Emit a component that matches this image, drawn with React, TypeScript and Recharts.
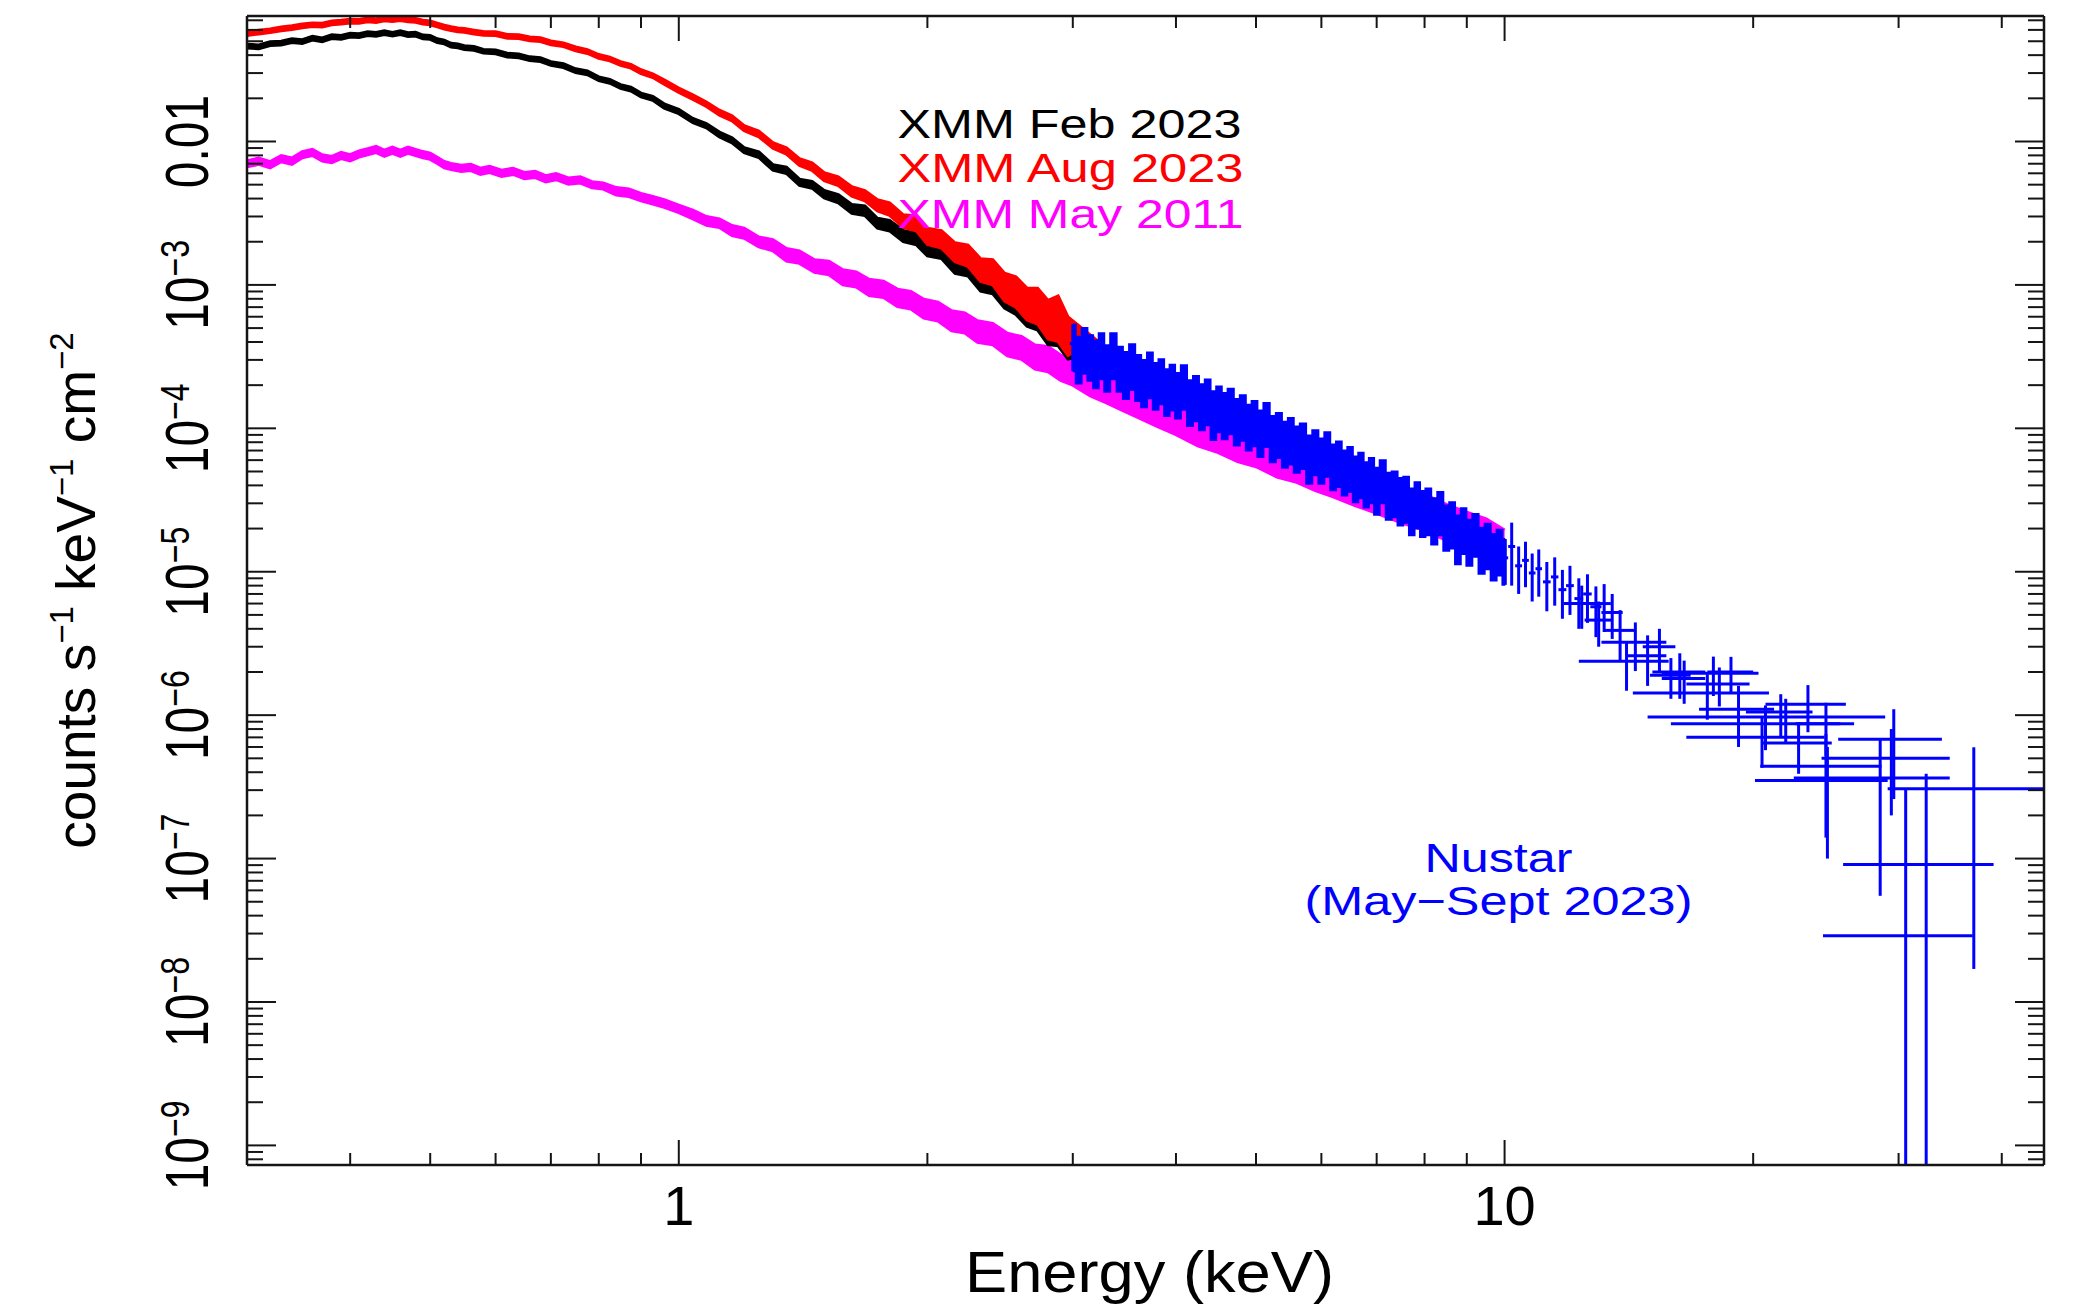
import React from 'react';
import { ComposedChart, Area, Scatter, XAxis, YAxis, ErrorBar, ReferenceDot } from 'recharts';

const FONT = '"Liberation Sans", Arial, Helvetica, sans-serif';
const AXIS = '#151515';

const X_DOMAIN: [number, number] = [0.3, 45];
const Y_DOMAIN: [number, number] = [7.3e-10, 0.075];

// axis ticks
const xMajorTicks = [1, 10];
const xMajorLabels = ['1', '10'];
const xMinorTicks = [0.4, 0.5, 0.6, 0.7, 0.8, 0.9, 2, 3, 4, 5, 6, 7, 8, 9, 20, 30, 40];
const yMajorTicks = [1e-9, 1e-8, 1e-7, 1e-6, 1e-5, 1e-4, 1e-3, 1e-2];
const yMajorLabels: [string, string][] = [
  ['10', '\u22129'], ['10', '\u22128'], ['10', '\u22127'], ['10', '\u22126'],
  ['10', '\u22125'], ['10', '\u22124'], ['10', '\u22123'], ['0.01', ''],
];
const yMinorMultipliers = [2, 3, 4, 5, 6, 7, 8, 9];
const yDecades = [1e-10, 1e-9, 1e-8, 1e-7, 1e-6, 1e-5, 1e-4, 1e-3, 1e-2];

// XMM Feb 2023: [energy keV, counts s^-1 keV^-1 cm^-2, fractional error]
const xmmFeb2023: [number, number, number][] = [
  [0.300,0.0462,0.03],[0.310,0.0458,0.03],[0.320,0.0482,0.03],[0.330,0.0485,0.03],[0.340,0.0505,0.03],
  [0.350,0.0498,0.03],[0.360,0.0525,0.03],[0.370,0.0512,0.03],[0.380,0.0538,0.03],[0.390,0.0532,0.03],
  [0.400,0.0552,0.03],[0.410,0.0548,0.03],[0.420,0.0566,0.03],[0.430,0.0558,0.03],[0.440,0.0575,0.03],
  [0.450,0.0560,0.03],[0.460,0.0574,0.03],[0.470,0.0556,0.03],[0.480,0.0560,0.03],[0.490,0.0536,0.03],
  [0.500,0.0532,0.03],[0.510,0.0505,0.03],[0.520,0.0494,0.03],[0.530,0.0470,0.03],[0.540,0.0464,0.03],
  [0.550,0.0452,0.03],[0.565,0.0446,0.03],[0.580,0.0426,0.03],[0.600,0.0422,0.03],[0.620,0.0400,0.03],
  [0.640,0.0395,0.03],[0.660,0.0378,0.03],[0.680,0.0372,0.03],[0.700,0.0350,0.03],[0.725,0.0338,0.03],
  [0.750,0.0312,0.03],[0.775,0.0301,0.03],[0.800,0.0274,0.03],[0.825,0.0263,0.03],[0.850,0.0242,0.03],
  [0.875,0.0232,0.03],[0.900,0.0211,0.03],[0.930,0.0200,0.03],[0.960,0.0177,0.035],[1.000,0.0162,0.035],
  [1.040,0.0140,0.035],[1.080,0.0129,0.035],[1.120,0.0112,0.04],[1.160,0.0102,0.04],[1.200,0.0087,0.04],
  [1.250,0.0081,0.045],[1.300,0.0066,0.045],[1.350,0.0063,0.05],[1.400,0.0052,0.05],[1.450,0.0050,0.055],
  [1.500,0.0043,0.06],[1.560,0.0040,0.065],[1.620,0.0034,0.07],[1.680,0.0033,0.075],[1.740,0.0027,0.08],
  [1.800,0.0026,0.085],[1.870,0.0022,0.09],[1.940,0.0021,0.095],[2.000,0.00177,0.1],[2.080,0.00170,0.1],
  [2.160,0.00135,0.11],[2.240,0.00131,0.12],[2.320,0.00104,0.13],[2.400,0.00101,0.14],[2.480,0.00081,0.15],
  [2.560,0.00074,0.16],[2.640,0.00062,0.17],[2.720,0.00059,0.18],[2.800,0.00048,0.2],[2.880,0.00047,0.2],
  [2.960,0.00039,0.22],[3.040,0.00037,0.15],[3.300,0.00029,0.12],[3.700,0.00021,0.12],[4.200,0.000152,0.12],
  [4.800,0.000108,0.12],[5.500,0.000078,0.12],[6.300,0.000054,0.12],[7.200,0.000039,0.12],[8.200,0.000027,0.12],
];

// XMM Aug 2023
const xmmAug2023: [number, number, number][] = [
  [0.300,0.0565,0.03],[0.310,0.0580,0.03],[0.320,0.0592,0.03],[0.330,0.0610,0.03],[0.340,0.0622,0.03],
  [0.350,0.0640,0.03],[0.360,0.0652,0.03],[0.370,0.0648,0.03],[0.380,0.0672,0.03],[0.390,0.0680,0.03],
  [0.400,0.0692,0.03],[0.410,0.0688,0.03],[0.420,0.0705,0.03],[0.430,0.0698,0.03],[0.440,0.0716,0.03],
  [0.450,0.0708,0.03],[0.460,0.0718,0.03],[0.470,0.0705,0.03],[0.480,0.0700,0.03],[0.490,0.0680,0.03],
  [0.500,0.0672,0.03],[0.510,0.0650,0.03],[0.520,0.0628,0.03],[0.530,0.0612,0.03],[0.540,0.0600,0.03],
  [0.550,0.0595,0.03],[0.565,0.0580,0.03],[0.580,0.0567,0.03],[0.600,0.0565,0.03],[0.620,0.0541,0.03],
  [0.640,0.0538,0.03],[0.660,0.0520,0.03],[0.680,0.0513,0.03],[0.700,0.0488,0.03],[0.725,0.0473,0.03],
  [0.750,0.0443,0.03],[0.775,0.0424,0.03],[0.800,0.0392,0.03],[0.825,0.0376,0.03],[0.850,0.0350,0.03],
  [0.875,0.0335,0.03],[0.900,0.0307,0.03],[0.930,0.0288,0.03],[0.960,0.0260,0.035],[1.000,0.0228,0.035],
  [1.040,0.0204,0.035],[1.080,0.0182,0.035],[1.120,0.0159,0.04],[1.160,0.0145,0.04],[1.200,0.0124,0.04],
  [1.250,0.0113,0.045],[1.300,0.0094,0.045],[1.350,0.0086,0.05],[1.400,0.0072,0.055],[1.450,0.0067,0.06],
  [1.500,0.0057,0.065],[1.560,0.0053,0.07],[1.620,0.0045,0.075],[1.680,0.0042,0.08],[1.740,0.0036,0.09],
  [1.800,0.0034,0.1],[1.870,0.0028,0.1],[1.940,0.0027,0.12],[2.000,0.0022,0.13],[2.080,0.0021,0.14],
  [2.160,0.00171,0.15],[2.240,0.00162,0.17],[2.320,0.00129,0.18],[2.400,0.00125,0.2],[2.480,0.00099,0.22],
  [2.560,0.00092,0.24],[2.640,0.00076,0.25],[2.720,0.00074,0.28],[2.800,0.00060,0.3],[2.880,0.00062,0.35],
  [2.960,0.00046,0.3],[3.040,0.00044,0.2],[3.400,0.00028,0.12],[4.000,0.000175,0.12],[4.600,0.000125,0.12],
  [5.100,0.000105,0.12],[5.800,0.000072,0.12],[6.600,0.000050,0.12],[7.500,0.000035,0.12],[8.500,0.000025,0.12],
];

// XMM May 2011
const xmmMay2011: [number, number, number][] = [
  [0.300,0.0070,0.05],[0.310,0.0073,0.05],[0.320,0.0069,0.05],[0.330,0.0076,0.05],[0.340,0.0073,0.05],
  [0.350,0.0081,0.05],[0.360,0.0084,0.05],[0.370,0.0077,0.05],[0.380,0.0075,0.05],[0.390,0.0080,0.05],
  [0.400,0.0077,0.05],[0.410,0.0082,0.05],[0.420,0.0085,0.05],[0.430,0.0088,0.05],[0.440,0.0083,0.05],
  [0.450,0.0087,0.05],[0.460,0.0083,0.05],[0.470,0.0087,0.05],[0.480,0.0084,0.05],[0.490,0.0081,0.05],
  [0.500,0.0079,0.05],[0.510,0.0074,0.05],[0.520,0.0069,0.05],[0.530,0.0067,0.05],[0.545,0.0065,0.05],
  [0.560,0.0066,0.05],[0.575,0.0062,0.05],[0.590,0.0064,0.05],[0.610,0.0060,0.05],[0.630,0.0062,0.05],
  [0.650,0.0058,0.05],[0.670,0.0059,0.05],[0.690,0.0055,0.05],[0.710,0.0057,0.05],[0.735,0.0053,0.05],
  [0.760,0.0054,0.05],[0.785,0.0050,0.05],[0.810,0.0049,0.05],[0.840,0.0045,0.06],[0.870,0.0044,0.06],
  [0.900,0.0041,0.06],[0.930,0.0039,0.06],[0.960,0.0037,0.06],[1.000,0.0034,0.06],[1.040,0.0031,0.07],
  [1.080,0.0028,0.07],[1.120,0.0027,0.07],[1.160,0.0024,0.08],[1.200,0.0023,0.08],[1.250,0.0020,0.08],
  [1.300,0.0019,0.09],[1.350,0.00163,0.1],[1.400,0.00157,0.1],[1.460,0.00136,0.1],[1.520,0.00132,0.11],
  [1.580,0.00114,0.12],[1.640,0.00110,0.12],[1.700,0.00097,0.13],[1.770,0.00094,0.13],[1.840,0.00082,0.14],
  [1.910,0.00079,0.14],[1.980,0.00069,0.15],[2.060,0.00066,0.15],[2.140,0.00057,0.16],[2.220,0.00055,0.16],
  [2.300,0.00048,0.17],[2.400,0.00046,0.17],[2.500,0.00039,0.18],[2.600,0.00037,0.18],[2.700,0.00032,0.19],
  [2.800,0.00031,0.2],[2.900,0.00027,0.2],[3.000,0.00025,0.2],[3.150,0.00021,0.2],[3.300,0.00019,0.21],
  [3.450,0.000168,0.21],[3.600,0.000152,0.22],[3.800,0.000132,0.22],[4.000,0.000116,0.22],[4.250,0.000098,0.23],
  [4.500,0.000088,0.23],[4.750,0.000077,0.24],[5.000,0.000071,0.24],[5.300,0.000061,0.25],[5.600,0.000056,0.25],
  [5.900,0.000049,0.25],[6.200,0.000045,0.26],[6.600,0.000039,0.26],[7.000,0.000035,0.27],[7.500,0.000030,0.27],
  [8.000,0.000027,0.28],[8.500,0.000023,0.28],[9.000,0.000020,0.3],[9.500,0.000018,0.3],[10.00,0.000015,0.3],
];

// NuSTAR May-Sept 2023: [energy keV, counts, half bin width keV, 1-sigma error]
const nustar: [number, number, number, number][] = [
  [3.00,3.9e-4,0.025,1.4e-4],[3.05,3.2e-4,0.025,1.15e-4],[3.10,3.7e-4,0.025,1.3e-4],[3.15,3.3e-4,0.025,1.15e-4],
  [3.20,3.0e-4,0.025,1.1e-4],[3.25,3.4e-4,0.025,1.2e-4],[3.30,2.8e-4,0.025,1.0e-4],[3.36,3.4e-4,0.03,1.2e-4],
  [3.42,2.75e-4,0.03,0.95e-4],[3.48,2.5e-4,0.03,0.9e-4],[3.54,2.85e-4,0.03,1.0e-4],[3.60,2.4e-4,0.03,0.85e-4],
  [3.66,2.2e-4,0.03,0.8e-4],[3.72,2.5e-4,0.03,0.88e-4],[3.78,2.1e-4,0.03,0.75e-4],[3.84,2.25e-4,0.03,0.78e-4],
  [3.90,1.9e-4,0.03,0.68e-4],[3.96,2.05e-4,0.03,0.72e-4],[4.02,1.8e-4,0.035,0.63e-4],[4.09,2.05e-4,0.035,0.7e-4],
  [4.16,1.6e-4,0.035,0.56e-4],[4.23,1.72e-4,0.035,0.6e-4],[4.30,1.5e-4,0.035,0.53e-4],[4.37,1.62e-4,0.035,0.57e-4],
  [4.44,1.32e-4,0.035,0.49e-4],[4.51,1.45e-4,0.035,0.51e-4],[4.58,1.3e-4,0.04,0.46e-4],[4.66,1.4e-4,0.04,0.49e-4],
  [4.74,1.18e-4,0.04,0.42e-4],[4.82,1.26e-4,0.04,0.44e-4],[4.90,1.08e-4,0.04,0.38e-4],[4.98,1.15e-4,0.04,0.4e-4],
  [5.06,0.98e-4,0.045,0.35e-4],[5.15,1.12e-4,0.045,0.38e-4],[5.24,0.9e-4,0.045,0.32e-4],[5.33,0.95e-4,0.045,0.33e-4],
  [5.42,0.82e-4,0.045,0.29e-4],[5.51,0.87e-4,0.045,0.31e-4],[5.60,0.76e-4,0.05,0.27e-4],[5.70,0.8e-4,0.05,0.28e-4],
  [5.80,0.65e-4,0.05,0.24e-4],[5.90,0.72e-4,0.05,0.25e-4],[6.00,0.63e-4,0.05,0.22e-4],[6.10,0.7e-4,0.05,0.24e-4],
  [6.20,0.57e-4,0.05,0.2e-4],[6.30,0.6e-4,0.05,0.21e-4],[6.40,0.52e-4,0.05,0.18e-4],[6.50,0.55e-4,0.05,0.19e-4],
  [6.60,0.47e-4,0.05,0.165e-4],[6.70,0.5e-4,0.05,0.175e-4],[6.80,0.43e-4,0.05,0.15e-4],[6.90,0.46e-4,0.05,0.16e-4],
  [7.00,0.39e-4,0.06,0.14e-4],[7.12,0.45e-4,0.06,0.15e-4],[7.24,0.36e-4,0.06,0.13e-4],[7.36,0.37e-4,0.06,0.13e-4],
  [7.48,0.33e-4,0.06,0.12e-4],[7.60,0.34e-4,0.06,0.12e-4],[7.72,0.28e-4,0.06,0.1e-4],[7.84,0.31e-4,0.06,0.11e-4],
  [7.96,0.27e-4,0.06,0.095e-4],[8.08,0.28e-4,0.07,0.1e-4],[8.22,0.24e-4,0.07,0.085e-4],[8.36,0.27e-4,0.07,0.09e-4],
  [8.50,0.215e-4,0.07,0.075e-4],[8.64,0.225e-4,0.07,0.08e-4],[8.78,0.18e-4,0.07,0.067e-4],[8.92,0.205e-4,0.07,0.072e-4],
  [9.06,0.17e-4,0.08,0.06e-4],[9.22,0.19e-4,0.08,0.063e-4],[9.38,0.15e-4,0.08,0.053e-4],[9.54,0.16e-4,0.08,0.056e-4],
  [9.70,0.135e-4,0.08,0.048e-4],[9.86,0.145e-4,0.08,0.051e-4],[10.02,0.125e-4,0.08,0.044e-4],
  [10.2,1.5e-5,0.1,0.7e-5],[10.4,1.1e-5,0.1,0.4e-5],[10.6,1.2e-5,0.1,0.42e-5],[10.8,0.98e-5,0.1,0.36e-5],
  [11.0,1.05e-5,0.1,0.38e-5],[11.25,0.85e-5,0.12,0.32e-5],[11.5,0.92e-5,0.12,0.34e-5],[11.75,0.75e-5,0.13,0.28e-5],
  [12.0,0.8e-5,0.13,0.3e-5],[12.3,0.65e-5,0.15,0.25e-5],[12.6,0.7e-5,0.15,0.26e-5],[12.9,0.57e-5,0.2,0.22e-5],
  [13.2,0.6e-5,0.25,0.22e-5],[12.4,6.0e-6,0.6,2.0e-6],[13.0,4.6e-6,0.5,1.6e-6],[13.5,5.2e-6,0.4,1.8e-6],
  [13.8,3.9e-6,0.6,1.5e-6],[14.4,3.23e-6,1.3,1.2e-6],[14.05,2.38e-6,1.75,0.9e-6],[14.9,2.6e-6,0.8,1.0e-6],
  [15.4,3.0e-6,0.7,1.0e-6],[15.9,1.9e-6,0.9,0.6e-6],[16.3,2.0e-6,1.2,0.7e-6],[16.5,1.8e-6,1.0,0.6e-6],
  [17.6,1.43e-6,3.3,0.5e-6],[17.9,1.96e-6,2.4,0.6e-6],[18.2,1.65e-6,1.6,0.5e-6],[18.8,2.0e-6,1.2,0.55e-6],
  [19.2,1.1e-6,2.0,0.5e-6],[20.5,7.0e-7,3.9,2.7e-7],[20.7,8.7e-7,4.8,3.0e-7],[21.6,1.05e-6,2.0,3.5e-7],
  [21.9,9.7e-7,7.0,3.3e-7],[22.7,6.4e-7,2.2,2.5e-7],[23.3,1.19e-6,2.6,4.3e-7],[24.5,8.7e-7,2.0,3.5e-7],
  [24.5,4.4e-7,4.1,3.0e-7],[24.6,3.5e-7,4.5,2.5e-7],[28.5,3.65e-7,6.1,3.1e-7],[29.4,5.0e-7,5.2,3.0e-7],
  [29.6,6.8e-7,4.25,4.2e-7],[30.6,2.9e-8,6.3,2.8e-7],[32.4,9.1e-8,6.7,3.0e-7],[37.0,3.07e-7,7.9,2.9e-7],
];
const NUSTAR_DENSE_MAX = 10.05; // keV, end of the densely binned part

// annotations: [text, colour, energy keV, counts (baseline), text width px]
const xmmLabels: [string, string, number, number, number][] = [
  ['XMM Feb 2023', '#000000', 1.84, 0.01066, 344],
  ['XMM Aug 2023', '#ff0000', 1.84, 0.00518, 346],
  ['XMM May 2011', '#ff00ff', 1.84, 0.00251, 346],
];
const nustarLabels: [string, number, number, number][] = [
  ['Nustar', 9.83, 8.1e-8, 148],
  ['(May\u2212Sept 2023)', 9.83, 4.07e-8, 388],
];

const bandData = (rows: [number, number, number][]) =>
  rows.map(([x, y, f]) => ({ x, y, band: [y * (1 - f), y * (1 + f)] }));
const nustarData = nustar.map(([x, y, ex, e]) => {
  const lo = Math.min(e, y - Y_DOMAIN[0]);
  return { x, y, ex, ey: [lo, e], band: [y - lo, y + e] };
});
const nustarDense = nustarData.filter((d) => d.x <= NUSTAR_DENSE_MAX);

const xTicks = [...xMinorTicks, ...xMajorTicks].sort((a, b) => a - b);
const yTicks: number[] = [];
yDecades.forEach((d) => {
  yMinorMultipliers.forEach((m) => {
    const v = m * d;
    if (v >= Y_DOMAIN[0] && v <= Y_DOMAIN[1]) yTicks.push(v);
  });
});
yMajorTicks.forEach((v) => yTicks.push(v));
yTicks.sort((a, b) => a - b);

function XTick(props: any) {
  const { x, y, payload, side } = props;
  const v = payload.value as number;
  const idx = xMajorTicks.indexOf(v);
  const major = idx >= 0;
  const len = major ? 25 : 12;
  const dir = side === 'bottom' ? -1 : 1;
  return (
    <g>
      <line x1={x} x2={x} y1={y} y2={y + dir * len} stroke={AXIS} strokeWidth={2} />
      {side === 'bottom' && major ? (
        <text x={x} y={y + 60} textAnchor="middle" fontSize={56} fontFamily={FONT} fill="#000">
          {xMajorLabels[idx]}
        </text>
      ) : null}
    </g>
  );
}

function YTick(props: any) {
  const { x, y, payload, side } = props;
  const v = payload.value as number;
  const idx = yMajorTicks.indexOf(v);
  const major = idx >= 0;
  const len = major ? 29 : 16;
  const dir = side === 'left' ? 1 : -1;
  return (
    <g>
      <line x1={x} x2={x + dir * len} y1={y} y2={y} stroke={AXIS} strokeWidth={2} />
      {side === 'left' && major ? (
        <text
          transform={`translate(${x - 39},${y}) rotate(-90) scale(1,1.28)`}
          textAnchor="middle"
          fontSize={48}
          fontFamily={FONT}
          fill="#000"
        >
          {yMajorLabels[idx][0]}
          {yMajorLabels[idx][1] ? (
            <tspan dy={-15} fontSize={32}>{yMajorLabels[idx][1]}</tspan>
          ) : null}
        </text>
      ) : null}
    </g>
  );
}

const XTitle = (props: any) => {
  const vb = props.viewBox;
  return (
    <text
      x={vb.x + vb.width / 2 + 4}
      y={vb.y + 127}
      textAnchor="middle"
      fontSize={57}
      fontFamily={FONT}
      textLength={369}
      lengthAdjust="spacingAndGlyphs"
      fill="#000"
    >
      Energy (keV)
    </text>
  );
};

const YTitle = (props: any) => {
  const vb = props.viewBox;
  const cx = vb.x + 87;
  const cy = vb.y + vb.height / 2;
  return (
    <text transform={`translate(${cx},${cy}) rotate(-90)`} textAnchor="middle" fontSize={55} fontFamily={FONT} fill="#000">
      counts s<tspan dy={-22} fontSize={33}>{'\u22121'}</tspan>
      <tspan dy={22}> keV</tspan>
      <tspan dy={-22} fontSize={33}>{'\u22121'}</tspan>
      <tspan dy={22}> cm</tspan>
      <tspan dy={-22} fontSize={33}>{'\u22122'}</tspan>
    </text>
  );
};

const annoText = (text: string, color: string, anchor: 'start' | 'middle', width: number) => (p: any) => {
  const vb = p.viewBox;
  return (
    <text
      x={vb.x + vb.width / 2}
      y={vb.y + vb.height / 2}
      textAnchor={anchor}
      fontSize={41}
      fontFamily={FONT}
      fill={color}
      textLength={width}
      lengthAdjust="spacingAndGlyphs"
    >
      {text}
    </text>
  );
};

const noShape = () => <g />;

const axisCommon = {
  type: 'number' as const,
  scale: 'log' as const,
  allowDataOverflow: true,
  interval: 0 as const,
  tickSize: 0,
  tickMargin: 0,
  tickLine: false,
  axisLine: { stroke: AXIS, strokeWidth: 2.5 },
};

export default function App() {
  const may = bandData(xmmMay2011);
  const feb = bandData(xmmFeb2023);
  const aug = bandData(xmmAug2023);
  return (
    <div style={{ width: 2058, height: 1296, background: '#fff' }}>
      <ComposedChart width={2058} height={1296} margin={{ top: 7, right: 21, bottom: 0, left: 0 }}>
        <XAxis
          {...axisCommon}
          xAxisId="bottom"
          dataKey="x"
          domain={X_DOMAIN}
          ticks={xTicks}
          tick={(p: any) => <XTick {...p} side="bottom" />}
          height={139}
          label={XTitle}
        />
        <XAxis
          {...axisCommon}
          xAxisId="top"
          orientation="top"
          dataKey="x"
          domain={X_DOMAIN}
          ticks={xTicks}
          tick={(p: any) => <XTick {...p} side="top" />}
          height={1}
        />
        <YAxis
          {...axisCommon}
          yAxisId="left"
          dataKey="y"
          domain={Y_DOMAIN}
          ticks={yTicks}
          tick={(p: any) => <YTick {...p} side="left" />}
          width={239}
          label={YTitle}
        />
        <YAxis
          {...axisCommon}
          yAxisId="right"
          orientation="right"
          dataKey="y"
          domain={Y_DOMAIN}
          ticks={yTicks}
          tick={(p: any) => <YTick {...p} side="right" />}
          width={1}
        />

        {/* invisible series so the top and right frame axes are registered */}
        <Scatter xAxisId="top" yAxisId="right" data={nustarData} shape={noShape} isAnimationActive={false} />

        <Area xAxisId="bottom" yAxisId="left" data={may} dataKey="band" type="linear"
          stroke="#ff00ff" strokeWidth={3} fill="#ff00ff" fillOpacity={1} isAnimationActive={false} />
        <Area xAxisId="bottom" yAxisId="left" data={feb} dataKey="band" type="linear"
          stroke="#000000" strokeWidth={3} fill="#000000" fillOpacity={1} isAnimationActive={false} />
        <Area xAxisId="bottom" yAxisId="left" data={aug} dataKey="band" type="linear"
          stroke="#ff0000" strokeWidth={3} fill="#ff0000" fillOpacity={1} isAnimationActive={false} />
        <Area xAxisId="bottom" yAxisId="left" data={nustarDense} dataKey="band" type="step"
          stroke="#0000ff" strokeWidth={2} fill="#0000ff" fillOpacity={1} isAnimationActive={false} />

        <Scatter xAxisId="bottom" yAxisId="left" data={nustarData} fill="#0000ff" shape={noShape} isAnimationActive={false}>
          <ErrorBar dataKey="ex" direction="x" width={0} stroke="#0000ff" strokeWidth={3} isAnimationActive={false} />
          <ErrorBar dataKey="ey" direction="y" width={0} stroke="#0000ff" strokeWidth={3} isAnimationActive={false} />
        </Scatter>

        {xmmLabels.map(([t, c, x, y, w]) => (
          <ReferenceDot key={t} xAxisId="bottom" yAxisId="left" x={x} y={y} r={1} fill="none" stroke="none"
            label={annoText(t, c, 'start', w)} />
        ))}
        {nustarLabels.map(([t, x, y, w]) => (
          <ReferenceDot key={t} xAxisId="bottom" yAxisId="left" x={x} y={y} r={1} fill="none" stroke="none"
            label={annoText(t, '#0000ff', 'middle', w)} />
        ))}
      </ComposedChart>
    </div>
  );
}
